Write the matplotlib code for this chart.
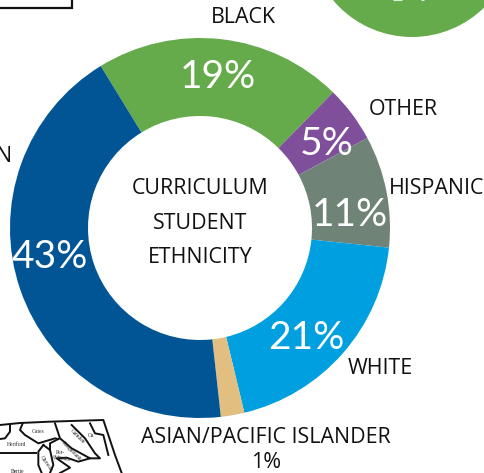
#!/usr/bin/env python3
"""Curriculum student ethnicity donut, with the cropped neighbours of the page around it."""
import matplotlib; matplotlib.use("Agg")
import matplotlib.pyplot as plt
from matplotlib.patches import Circle

W, H = 485, 473
groups = ["BLACK", "OTHER", "HISPANIC", "WHITE", "ASIAN/PACIFIC ISLANDER", "N"]
printed = ["19%", "5%", "11%", "21%", "1%", "43%"]
shares = [21.1, 4.8, 9.5, 19.6, 2.0, 43.0]
colors = ["#65AB4B", "#7F4F9C", "#6F8377", "#00A0E0", "#E2BE80", "#025594"]

CX, CY, R, R_IN = 200, 228, 190, 112
LABEL = ["Open Sans", "DejaVu Sans"]
PCT = ["Lato", "DejaVu Sans"]
FS = 15.4

fig = plt.figure(figsize=(W/100, H/100), dpi=100)
pie_ax = fig.add_axes([(CX-R)/W, 1-(CY+R)/H, 2*R/W, 2*R/H])
pie_ax.pie(shares, colors=colors, startangle=121.5, counterclock=False, radius=1,
           wedgeprops=dict(width=1-R_IN/R, linewidth=0))
pie_ax.set_xlim(-1, 1); pie_ax.set_ylim(-1, 1)

# overlay in reference pixels, y down
ax = fig.add_axes([0, 0, 1, 1]); ax.set_xlim(0, W); ax.set_ylim(H, 0); ax.axis("off")
ax.patch.set_alpha(0)

# cropped green circle, top right, with the bottom of its clipped number
ax.add_patch(Circle((412, -66), 103, facecolor="#65AB4B", edgecolor="none"))
ax.plot([393, 402], [0.4, 0.4], color="#dfeeda", lw=0.8, solid_capstyle="butt")
ax.plot([421, 424], [0.4, 0.4], color="#dfeeda", lw=0.8, solid_capstyle="butt")

# cropped box corner, top left
ax.plot([0, 72.5, 72.5], [8, 8, -2], color="#111111", lw=1.6, solid_joinstyle="miter")

# percentages inside the ring
pct_pos = [(218, 77.5), (327, 143.5), (350, 214.5), (306, 337.5), (50, 256.5)]
pct_vals = [printed[0], printed[1], printed[2], printed[3], printed[5]]
for (x, y), t in zip(pct_pos, pct_vals):
    ax.text(x, y, t, ha="center", va="center", color="white", fontsize=28, family=PCT)

# outer labels
ax.text(243, 17.5, groups[0], ha="center", va="center", fontsize=FS, family=LABEL, color="#111111")
ax.text(403, 109.5, groups[1], ha="center", va="center", fontsize=FS, family=LABEL, color="#111111")
ax.text(437, 188.5, groups[2], ha="center", va="center", fontsize=FS, family=LABEL, color="#111111")
ax.text(380, 368.5, groups[3], ha="center", va="center", fontsize=FS, family=LABEL, color="#111111")
ax.text(266, 437.5, groups[4], ha="center", va="center", fontsize=FS, family=LABEL, color="#111111")
ax.text(266, 462.5, printed[4], ha="center", va="center", fontsize=FS, family=LABEL, color="#111111")
ax.text(12.5, 156.5, groups[5], ha="right", va="center", fontsize=FS, family=LABEL, color="#111111")

# centre title
for y, t in zip([188.5, 223.5, 257.5], ["CURRICULUM", "STUDENT", "ETHNICITY"]):
    ax.text(CX, y, t, ha="center", va="center", fontsize=FS, family=LABEL, color="#111111")

# scrap of county map, bottom left
def zoomed(pts):
    return [p[0]/3 for p in pts], [415+p[1]/3 for p in pts]

map_lines = [
    [(0, 30), (60, 24), (150, 20), (310, 15), (325, 60), (345, 120), (365, 174)],
    [(30, 28), (30, 50), (15, 70), (0, 72)],
    [(68, 25), (60, 45), (75, 60), (115, 85), (165, 70), (175, 72)],
    [(165, 25), (180, 70), (215, 100), (270, 130), (235, 140), (200, 128), (170, 130), (210, 158), (180, 174)],
    [(0, 113), (108, 113)],
    [(130, 90), (115, 110), (115, 150), (125, 174)],
    [(130, 90), (150, 105), (160, 150), (150, 174)],
    [(175, 72), (150, 85), (150, 105)],
    [(215, 30), (255, 70), (285, 115), (300, 130), (270, 130)],
    [(270, 25), (285, 55), (310, 60), (325, 120)],
]
for pts in map_lines:
    xs, ys = zoomed(pts)
    ax.plot(xs, ys, color="#111111", lw=1.4, solid_joinstyle="round")

map_text = [("Gates", 115, 50, 0), ("Hertford", 49, 89, 0), ("Bertie", 53, 170, 0),
            ("Per-", 180, 112, 0), ("quimans", 185, 129, -10), ("Chowan", 138, 145, -55),
            ("Pasquotank", 216, 110, -45), ("Camden", 231, 65, -45), ("Cu", 272, 60, 0)]
for t, x, y, rot in map_text:
    ax.text(x/3, 415+y/3, t, ha="center", va="center", rotation=rot, fontsize=4,
            family="Liberation Serif", color="#222222")

ax.set_xlim(0, W); ax.set_ylim(H, 0)
fig.savefig("out.png", dpi=100)
plt.close(fig)
